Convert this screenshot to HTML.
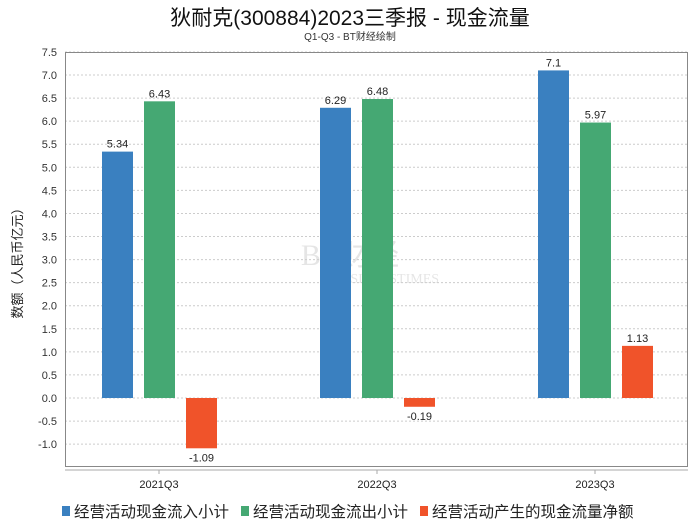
<!DOCTYPE html>
<html><head><meta charset="utf-8"><style>
body{margin:0;background:#fff;width:700px;height:524px;overflow:hidden;font-family:"Liberation Sans","Noto Sans CJK SC",sans-serif}
</style></head><body>
<svg id="c" width="700" height="524" font-family="Liberation Sans, Noto Sans CJK SC, sans-serif">
<text x="350" y="25" text-anchor="middle" font-size="21" fill="#111">狄耐克(300884)2023三季报 - 现金流量</text>
<text x="350" y="40" text-anchor="middle" font-size="10" fill="#333">Q1-Q3 - BT财经绘制</text>
<text x="22" y="260" text-anchor="middle" font-size="13" fill="#222" transform="rotate(-90 22 260)">数额（人民币亿元）</text>
<g opacity="0.12"><text x="350" y="265" text-anchor="middle" font-size="30" font-family="Liberation Serif,serif" fill="#333">BT财经</text><text x="385" y="283" text-anchor="middle" font-size="14" font-family="Liberation Serif,serif" fill="#333">BUSINESSTIMES</text></g>
<g id="grid"></g><g id="bars"></g>
<rect x="65.5" y="52.5" width="622" height="414" fill="none" stroke="#888"/>
<line x1="65" y1="470" x2="688" y2="470" stroke="#aaa"/>
<g id="legend"></g>
</svg>
<script>
const categories=["2021Q3","2022Q3","2023Q3"];
const inflow=[5.34,6.29,7.1];
const outflow=[6.43,6.48,5.97];
const net=[-1.09,-0.19,1.13];
const yTicks=[7.5,7.0,6.5,6.0,5.5,5.0,4.5,4.0,3.5,3.0,2.5,2.0,1.5,1.0,0.5,0.0,-0.5,-1.0];
const seriesNames=["经营活动现金流入小计","经营活动现金流出小计","经营活动产生的现金流量净额"];
const colors=["#3a80c0","#45a873","#f0532a"];
const NS="http://www.w3.org/2000/svg";
const y=v=>398-v*46.14;
const xc=i=>159+i*218;
function mk(t,a,p){const e=document.createElementNS(NS,t);for(const k in a)e.setAttribute(k,a[k]);p.appendChild(e);return e;}
const grid=document.getElementById('grid');
yTicks.forEach(v=>{
  const l=mk('line',{x1:65,x2:687,y1:y(v),y2:y(v),stroke:'#ccc','stroke-dasharray':'2,2'},grid);
  
  
  const t=mk('text',{x:57,y:y(v)+4,'text-anchor':'end','font-size':11,fill:'#333'},grid);
  t.textContent=v.toFixed(1);
  
  
});
const bars=document.getElementById('bars');
const series=[inflow,outflow,net];
const offs=[-57,-15,27];
categories.forEach((c,i)=>{
  const tk=mk('line',{x1:xc(i),x2:xc(i),y1:470,y2:474,stroke:'#aaa'},bars);
  
  
  const t=mk('text',{x:xc(i),y:488,'text-anchor':'middle','font-size':11,fill:'#222'},bars);
  t.textContent=c;
  
  
  series.forEach((s,j)=>{
    const v=s[i],x=xc(i)+offs[j];
    const top=Math.min(y(v),y(0)),h=Math.abs(y(v)-y(0));
    const r=mk('rect',{x:x,y:top,width:31,height:h,fill:colors[j]},bars);
    
    
    const lb=mk('text',{x:x+15.5,y:v>=0?top-4:top+h+13,'text-anchor':'middle','font-size':11,fill:'#222'},bars);
    lb.textContent=String(v);
    
    
  });
});
const lg=document.getElementById('legend');
const lx=[62,241,420];
seriesNames.forEach((n,j)=>{
  const g=mk('g',{},lg);
  
  
  mk('rect',{x:lx[j],y:506,width:8,height:10,fill:colors[j]},g);
  const t=mk('text',{x:lx[j]+12,y:517,'font-size':15.5,fill:'#222'},g);
  t.textContent=n;
});
</script>
</body></html>
